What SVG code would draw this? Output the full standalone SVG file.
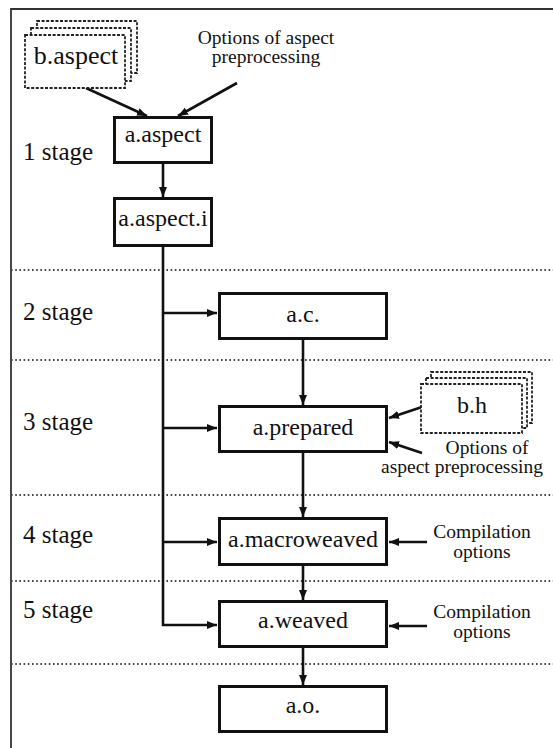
<svg xmlns="http://www.w3.org/2000/svg" width="553" height="748" viewBox="0 0 553 748">
<style>
.frame{stroke:#333;stroke-width:1.8;fill:none}
.dot{stroke:#444;stroke-width:1.8;stroke-dasharray:1.6 2.6;fill:none}
.box{fill:#fff;stroke:#111;stroke-width:3}
.stack{fill:#fff;stroke:#222;stroke-width:1.8;stroke-dasharray:3 1.6}
.lbl{font-size:24px;fill:#111;text-anchor:middle}
.stg{font-size:25px;fill:#111}
.side{font-size:19.5px;fill:#111;text-anchor:middle}
.con{stroke:#111;stroke-width:2.6;fill:none}
</style>
<defs>
<marker id="ah" markerUnits="userSpaceOnUse" markerWidth="10" markerHeight="8" refX="10" refY="4" orient="auto">
<path d="M0,0 L10,4 L0,8 z" fill="#111"/>
</marker>
</defs>
<rect width="553" height="748" fill="#fff"/>
<g id="frame">
<path class="frame" d="M11,748 L11,9 L553,9"/>
<path class="dot" d="M11,270 H553 M11,360 H553 M11,495 H553 M11,581 H553 M11,664 H553"/>
</g>
<g id="connectors">
<path class="con" d="M163,247 V625 H217" marker-end="url(#ah)"/>
<path class="con" d="M163,313 H217" marker-end="url(#ah)"/>
<path class="con" d="M163,428 H217" marker-end="url(#ah)"/>
<path class="con" d="M163,542 H217" marker-end="url(#ah)"/>
<path class="con" d="M163,164 V197" marker-end="url(#ah)"/>
<path class="con" d="M86,88 L147,116" marker-end="url(#ah)"/>
<path class="con" d="M237,83 L178,116" marker-end="url(#ah)"/>
<path class="con" d="M303,340 V405" marker-end="url(#ah)"/>
<path class="con" d="M303,453 V517" marker-end="url(#ah)"/>
<path class="con" d="M303,566 V600" marker-end="url(#ah)"/>
<path class="con" d="M303,648 V685" marker-end="url(#ah)"/>
<path class="con" d="M422,407 L389,418" marker-end="url(#ah)"/>
<path class="con" d="M422,453 L389,442" marker-end="url(#ah)"/>
<path class="con" d="M427,542 H389" marker-end="url(#ah)"/>
<path class="con" d="M427,626 H389" marker-end="url(#ah)"/>
</g>
<g font-family="'Liberation Serif', 'Times New Roman', Tinos, 'DejaVu Serif', serif">
<g id="stages">
<text class="stg" x="23" y="160">1 stage</text>
<text class="stg" x="23" y="320">2 stage</text>
<text class="stg" x="23" y="430">3 stage</text>
<text class="stg" x="23" y="543">4 stage</text>
<text class="stg" x="23" y="618">5 stage</text>
</g>
<g id="b-aspect">
<rect class="stack" x="37" y="21" width="100" height="52"/>
<rect class="stack" x="31" y="28" width="100" height="53"/>
<rect class="stack" x="25" y="35" width="100" height="53"/>
<text class="lbl" x="76" y="64" style="font-size:26px">b.aspect</text>
</g>
<g id="options-aspect-1">
<text class="side" x="266" y="44">Options of aspect</text>
<text class="side" x="266" y="63">preprocessing</text>
</g>
<g id="a-aspect">
<rect class="box" x="114.5" y="117.5" width="97" height="45"/>
<text class="lbl" x="163" y="142">a.aspect</text>
</g>
<g id="a-aspect-i">
<rect class="box" x="114.5" y="198.5" width="97" height="47"/>
<text class="lbl" x="163" y="226">a.aspect.i</text>
</g>
<g id="a-c">
<rect class="box" x="219.5" y="293.5" width="167" height="45"/>
<text class="lbl" x="303" y="322">a.c.</text>
</g>
<g id="a-prepared">
<rect class="box" x="219.5" y="406.5" width="167" height="45"/>
<text class="lbl" x="303" y="435">a.prepared</text>
</g>
<g id="b-h">
<rect class="stack" x="431" y="372" width="101" height="51"/>
<rect class="stack" x="426" y="378" width="101" height="50"/>
<rect class="stack" x="421" y="384" width="101" height="49"/>
<text class="lbl" x="472" y="413">b.h</text>
</g>
<g id="options-aspect-2">
<text class="side" x="487" y="454">Options of</text>
<text class="side" x="462" y="473">aspect preprocessing</text>
</g>
<g id="a-macroweaved">
<rect class="box" x="219.5" y="518.5" width="167" height="46"/>
<text class="lbl" x="303" y="547">a.macroweaved</text>
</g>
<g id="compilation-1">
<text class="side" x="482" y="538">Compilation</text>
<text class="side" x="482" y="558">options</text>
</g>
<g id="a-weaved">
<rect class="box" x="219.5" y="601.5" width="167" height="45"/>
<text class="lbl" x="303" y="628">a.weaved</text>
</g>
<g id="compilation-2">
<text class="side" x="482" y="618">Compilation</text>
<text class="side" x="482" y="638">options</text>
</g>
<g id="a-o">
<rect class="box" x="219.5" y="686.5" width="167" height="45"/>
<text class="lbl" x="303" y="713">a.o.</text>
</g>
</g>
</svg>
